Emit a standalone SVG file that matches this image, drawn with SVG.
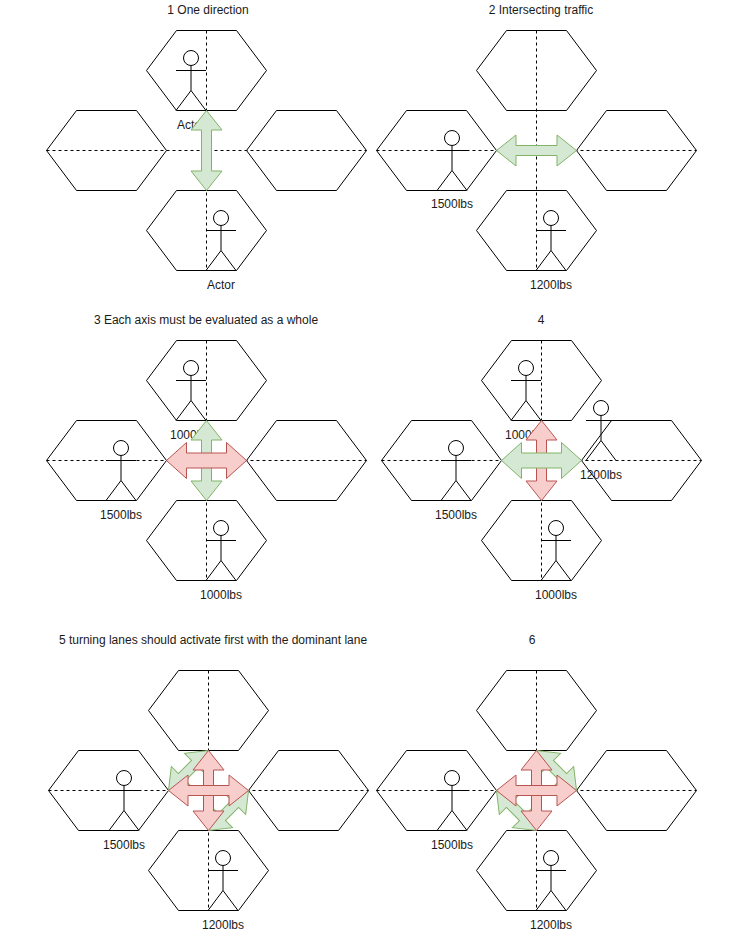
<svg xmlns="http://www.w3.org/2000/svg" xmlns:xlink="http://www.w3.org/1999/xlink" width="746" height="931" viewBox="0 0 746 931">
<style>
text{font-family:"Liberation Sans",Arial,sans-serif;font-size:12px;fill:#1a1a1a;text-anchor:middle}
.hex{fill:#fff;stroke:#000;stroke-width:1}
.actor{fill:none;stroke:#000;stroke-width:1}
.dash{fill:none;stroke:#000;stroke-width:1;stroke-dasharray:3 3}
.green{fill:#d5e8d4;stroke:#82b366;stroke-width:1}
.red{fill:#f8cecc;stroke:#b85450;stroke-width:1}
</style>
<defs>
<polygon id="h" class="hex" points="30,0 90,0 120,40 90,80 30,80 0,40"/>
<g id="a" class="actor"><circle cx="15" cy="7.5" r="7.5" fill="#fff"/><path d="M0 20H30M15 15V40L0 60M15 40L30 60"/></g>
<polygon id="n" points="-40,0 -20.5,-15.5 -20.5,-5 20.5,-5 20.5,-15.5 40,0 20.5,15.5 20.5,5 -20.5,5 -20.5,15.5"/>
<polygon id="w" points="-40,0 -20,-18 -20,-7.5 20,-7.5 20,-18 40,0 20,18 20,7.5 -20,7.5 -20,18"/>
<polygon id="d" points="-28.3,0 -9.3,-15 -9.3,-5 9.3,-5 9.3,-15 28.3,0 9.3,15 9.3,5 -9.3,5 -9.3,15"/>
</defs>

<g id="titles">
<text x="208" y="14">1 One direction</text>
<text x="541" y="14">2 Intersecting traffic</text>
<text x="206" y="324">3 Each axis must be evaluated as a whole</text>
<text x="541" y="324">4</text>
<text x="213" y="644">5 turning lanes should activate first with the dominant lane</text>
<text x="532" y="644">6</text>
</g>

<g id="p1-top"><use xlink:href="#h" x="146.5" y="30.5"/></g>
<g id="p1-left"><use xlink:href="#h" x="46.5" y="110.5"/></g>
<g id="p1-right"><use xlink:href="#h" x="246.5" y="110.5"/></g>
<g id="p1-bottom"><use xlink:href="#h" x="146.5" y="190.5"/></g>
<g id="p2-top"><use xlink:href="#h" x="476.5" y="30.5"/></g>
<g id="p2-left"><use xlink:href="#h" x="376.5" y="110.5"/></g>
<g id="p2-right"><use xlink:href="#h" x="576.5" y="110.5"/></g>
<g id="p2-bottom"><use xlink:href="#h" x="476.5" y="190.5"/></g>
<g id="p3-top"><use xlink:href="#h" x="146.5" y="340.5"/></g>
<g id="p3-left"><use xlink:href="#h" x="46.5" y="420.5"/></g>
<g id="p3-right"><use xlink:href="#h" x="246.5" y="420.5"/></g>
<g id="p3-bottom"><use xlink:href="#h" x="146.5" y="500.5"/></g>
<g id="p4-top"><use xlink:href="#h" x="481.5" y="340.5"/></g>
<g id="p4-left"><use xlink:href="#h" x="381.5" y="420.5"/></g>
<g id="p4-right"><use xlink:href="#h" x="581.5" y="420.5"/></g>
<g id="p4-bottom"><use xlink:href="#h" x="481.5" y="500.5"/></g>
<g id="p5-top"><use xlink:href="#h" x="148.5" y="670.5"/></g>
<g id="p5-left"><use xlink:href="#h" x="48.5" y="750.5"/></g>
<g id="p5-right"><use xlink:href="#h" x="248.5" y="750.5"/></g>
<g id="p5-bottom"><use xlink:href="#h" x="148.5" y="830.5"/></g>
<g id="p6-top"><use xlink:href="#h" x="476.5" y="670.5"/></g>
<g id="p6-left"><use xlink:href="#h" x="376.5" y="750.5"/></g>
<g id="p6-right"><use xlink:href="#h" x="576.5" y="750.5"/></g>
<g id="p6-bottom"><use xlink:href="#h" x="476.5" y="830.5"/></g>

<g id="p1-actor-top"><use xlink:href="#a" x="176" y="50.5"/><text x="191" y="129">Actor</text></g>
<g id="p1-actor-bottom"><use xlink:href="#a" x="206" y="210.5"/><text x="221" y="289">Actor</text></g>
<g id="p2-actor-left"><use xlink:href="#a" x="437" y="130.5"/><text x="452" y="208">1500lbs</text></g>
<g id="p2-actor-bottom"><use xlink:href="#a" x="536" y="210.5"/><text x="551" y="289">1200lbs</text></g>
<g id="p3-actor-top"><use xlink:href="#a" x="176" y="360.5"/><text x="191" y="439">1000lbs</text></g>
<g id="p3-actor-left"><use xlink:href="#a" x="106" y="440.5"/><text x="121" y="519">1500lbs</text></g>
<g id="p3-actor-bottom"><use xlink:href="#a" x="206" y="520.5"/><text x="221" y="599">1000lbs</text></g>
<g id="p4-actor-top"><use xlink:href="#a" x="511" y="360.5"/><text x="526" y="439">1000lbs</text></g>
<g id="p4-actor-left"><use xlink:href="#a" x="441" y="440.5"/><text x="456" y="519">1500lbs</text></g>
<g id="p4-actor-right"><use xlink:href="#a" x="586" y="400.5"/><text x="601" y="479">1200lbs</text></g>
<g id="p4-actor-bottom"><use xlink:href="#a" x="541" y="520.5"/><text x="556" y="599">1000lbs</text></g>
<g id="p5-actor-left"><use xlink:href="#a" x="109" y="770.5"/><text x="124" y="849">1500lbs</text></g>
<g id="p5-actor-bottom"><use xlink:href="#a" x="208" y="850.5"/><text x="223" y="929">1200lbs</text></g>
<g id="p6-actor-left"><use xlink:href="#a" x="437" y="770.5"/><text x="452" y="849">1500lbs</text></g>
<g id="p6-actor-bottom"><use xlink:href="#a" x="536" y="850.5"/><text x="551" y="929">1200lbs</text></g>

<g id="connectors">
<path class="dash" d="M206.5 30.5V270.5M46.5 150.5H366.5"/>
<path class="dash" d="M536.5 30.5V270.5M376.5 150.5H696.5"/>
<path class="dash" d="M206.5 340.5V580.5M46.5 460.5H366.5"/>
<path class="dash" d="M541.5 340.5V580.5M381.5 460.5H701.5"/>
<path class="dash" d="M208.5 670.5V910.5M48.5 790.5H368.5"/>
<path class="dash" d="M536.5 670.5V910.5M376.5 790.5H696.5"/>

<use xlink:href="#n" class="green" transform="translate(206.5,150.5) rotate(90)"/>
<use xlink:href="#n" class="green" transform="translate(536.5,150.5)"/>

<use xlink:href="#n" class="green" transform="translate(206.5,460.5) rotate(90)"/>
<use xlink:href="#w" class="red" transform="translate(206.5,460.5)"/>

<use xlink:href="#n" class="red" transform="translate(541.5,460.5) rotate(90)"/>
<use xlink:href="#w" class="green" transform="translate(541.5,460.5)"/>

<use xlink:href="#d" class="green" transform="translate(188.5,770.5) rotate(-45)"/>
<use xlink:href="#d" class="green" transform="translate(228.5,810.5) rotate(-45)"/>
<use xlink:href="#n" class="red" transform="translate(208.5,790.5) rotate(90)"/>
<use xlink:href="#n" class="red" transform="translate(208.5,790.5)"/>

<use xlink:href="#d" class="green" transform="translate(556.5,770.5) rotate(45)"/>
<use xlink:href="#d" class="green" transform="translate(516.5,810.5) rotate(45)"/>
<use xlink:href="#n" class="red" transform="translate(536.5,790.5) rotate(90)"/>
<use xlink:href="#n" class="red" transform="translate(536.5,790.5)"/>
</g>
</svg>
